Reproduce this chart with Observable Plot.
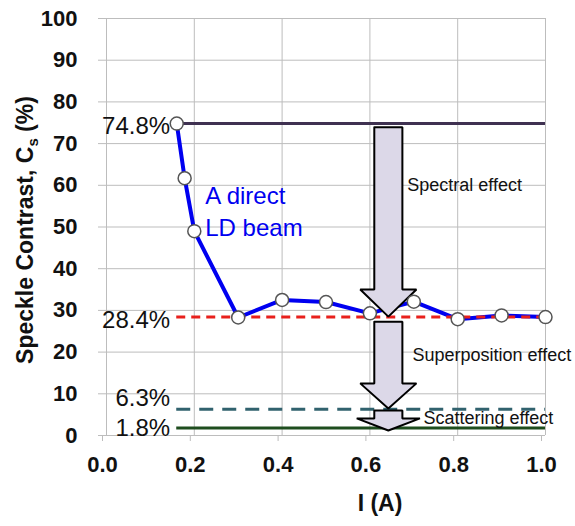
<!DOCTYPE html>
<html>
<head>
<meta charset="utf-8">
<script src="https://cdn.jsdelivr.net/npm/d3@7"></script>
<script src="https://cdn.jsdelivr.net/npm/@observablehq/plot@0.6"></script>
<style>
  body { margin: 0; background: #fff; }
  svg { font-family: Arial, "Liberation Sans", sans-serif; }
</style>
</head>
<body>
<div id="chart"></div>
<script>
// ---- data ----
const currents = [0.16, 0.178, 0.2, 0.3, 0.4, 0.5, 0.6, 0.7, 0.8, 0.9, 1.0];
const contrast = [74.8, 61.7, 49.0, 28.3, 32.5, 32.0, 29.3, 32.1, 27.9, 28.8, 28.4];
const levelValues = [74.8, 28.4, 6.3, 1.8];
const levelLabels = ["74.8%", "28.4%", "6.3%", "1.8%"];
const levelStart = 0.16, levelEnd = 1.0;
const xTicks = [0, 0.2, 0.4, 0.6, 0.8, 1.0];
const yTicks = [0, 10, 20, 30, 40, 50, 60, 70, 80, 90, 100];
const effectNames = ["Spectral effect", "Superposition effect", "Scattering effect"];
// arrow spans: [shaft top, head start, tip] in % units
const arrowSpans = [[73.9, 35.0, 28.5], [27.3, 12.5, 6.5], [6.0, 4.1, 1.2]];

// ---- derived tables ----
const points = currents.map((x, i) => ({x, y: contrast[i]}));
const levelStyles = [
  {stroke: "#3f3151", dash: null},
  {stroke: "#e8201c", dash: "9,6"},
  {stroke: "#31626e", dash: "14,9"},
  {stroke: "#1e4d1e", dash: null}
];
// label anchor positions (in % units) beside each level line
const labelY = [74.1, 27.6, 8.9, 1.7];
const levels = levelValues.map((v, i) => ({v, label: levelLabels[i], ly: labelY[i]}));

const cx = 0.642, hw = 0.032;
const headHalf = [0.064, 0.064, 0.072];
const arrowPts = [];
arrowSpans.forEach(([top, neck, tip], i) => {
  const hh = headHalf[i];
  const poly = [[cx - hw, top], [cx + hw, top], [cx + hw, neck], [cx + hh, neck], [cx, tip],
                [cx - hh, neck], [cx - hw, neck], [cx - hw, top]];
  poly.forEach(([x, y]) => arrowPts.push({id: i, x, y}));
});
const effectPos = [[0.685, 60], [0.697, 19.2], [0.722, 4.1]];
const effects = effectNames.map((t, i) => ({t, x: effectPos[i][0], y: effectPos[i][1]}));

const levelMarks = levels.map((d, i) => Plot.ruleY([d.v], {
  x1: levelStart, x2: levelEnd,
  stroke: levelStyles[i].stroke, strokeWidth: 3,
  strokeDasharray: levelStyles[i].dash
}));

const svg = Plot.plot({
  width: 575,
  height: 526,
  marginLeft: 106,
  marginRight: 30,
  marginTop: 18,
  marginBottom: 91,
  style: {fontFamily: "Arial, 'Liberation Sans', sans-serif", background: "#fff"},
  x: {domain: [0, 1], ticks: xTicks},
  y: {domain: [0, 100], ticks: yTicks},
  marks: [
    Plot.gridX(xTicks, {stroke: "#bdbdbd", strokeOpacity: 1, strokeWidth: 1}),
    Plot.gridY(yTicks, {stroke: "#bdbdbd", strokeOpacity: 1, strokeWidth: 1}),
    Plot.axisX(xTicks, {
      tickSize: 6, tickPadding: 15, stroke: "#bdbdbd", fill: "#111",
      fontSize: 22, fontWeight: "bold", label: null, dx: -4,
      tickFormat: d => d.toFixed(1)
    }),
    Plot.axisY(yTicks, {
      tickSize: 8, tickPadding: 21, stroke: "#bdbdbd", fill: "#111",
      fontSize: 22, fontWeight: "bold", label: null
    }),
    levelMarks[0],
    levelMarks[2],
    levelMarks[3],
    Plot.line(points, {x: "x", y: "y", stroke: "#0000f0", strokeWidth: 4}),
    levelMarks[1],
    Plot.line(arrowPts, {x: "x", y: "y", z: "id", fill: "#dcd8e8", stroke: "#000", strokeWidth: 2, strokeLinejoin: "miter"}),
    Plot.dot(points, {x: "x", y: "y", r: 6.5, fill: "#fff", stroke: "#555", strokeWidth: 1.5}),
    Plot.text(levels, {x: 0.145, y: "ly", text: "label", textAnchor: "end", fontSize: 24, fill: "#111"}),
    Plot.text(effects, {x: "x", y: "y", text: "t", textAnchor: "start", fontSize: 18, fill: "#111"}),
    Plot.text(["A direct", "LD beam"], {x: 0.225, y: [57.3, 49.6], text: d => d, textAnchor: "start", fontSize: 24, fill: "#0000f0"})
  ]
});

const s = d3.select(svg);
s.append("text")
  .attr("transform", "translate(33,230) rotate(-90)")
  .attr("text-anchor", "middle")
  .attr("font-size", 23)
  .attr("font-weight", "bold")
  .attr("fill", "#111")
  .call(t => {
    t.append("tspan").text("Speckle Contrast, C");
    t.append("tspan").attr("font-size", 15).attr("dy", 5).text("s");
    t.append("tspan").attr("dy", -5).text(" (%)");
  });
s.append("text")
  .attr("x", 380).attr("y", 511)
  .attr("text-anchor", "middle")
  .attr("font-size", 23)
  .attr("font-weight", "bold")
  .attr("fill", "#111")
  .text("I (A)");

document.getElementById("chart").appendChild(svg);
</script>
</body>
</html>
